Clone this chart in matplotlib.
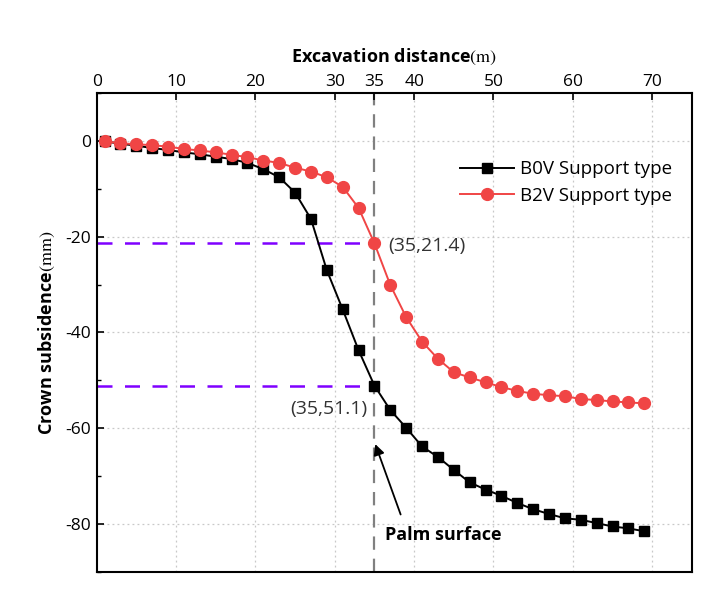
import matplotlib
matplotlib.use("Agg")
import matplotlib.pyplot as plt
from matplotlib.ticker import MultipleLocator, FixedLocator

plt.rcParams['font.family'] = ['Open Sans', 'DejaVu Sans']
plt.rcParams['mathtext.fontset'] = 'stix'

# ---- data ----
distance = list(range(1, 70, 2))
b0v = [-0.1, -0.6, -1.0, -1.5, -1.9, -2.4, -2.8, -3.3, -3.8, -4.6,
       -5.9, -7.6, -10.8, -16.3, -27.0, -35.2, -43.7, -51.1, -56.2, -59.9,
       -63.8, -66.0, -68.7, -71.3, -72.8, -74.1, -75.6, -76.9, -77.9, -78.8,
       -79.1, -79.8, -80.5, -80.9, -81.5]
b2v = [-0.1, -0.5, -0.7, -0.9, -1.2, -1.7, -2.0, -2.4, -2.9, -3.4,
       -4.1, -4.6, -5.6, -6.4, -7.6, -9.6, -14.0, -21.4, -30.1, -36.8,
       -41.9, -45.5, -48.3, -49.4, -50.4, -51.4, -52.2, -52.8, -53.1, -53.3,
       -53.9, -54.1, -54.4, -54.6, -54.8]
series_labels = ['B0V Support type', 'B2V Support type']
x_ticks = [0, 10, 20, 30, 35, 40, 50, 60, 70]
y_ticks = [-80, -60, -40, -20, 0]
palm_x = 35
mark_b0v = -51.1
mark_b2v = -21.4

fig = plt.figure(figsize=(7.23, 6.01), dpi=100)
ax = fig.add_axes([0.1337, 0.0483, 0.8233, 0.797])

ax.set_xlim(0, 75)
ax.set_ylim(-90, 10)

# grid
for xv in [10, 20, 30, 40, 50, 60, 70]:
    ax.axvline(xv, color='#c8c8c8', lw=0.9, ls=(0, (1.5, 2.5)), zorder=0)
for yv in y_ticks:
    ax.axhline(yv, color='#c8c8c8', lw=0.9, ls=(0, (1.5, 2.5)), zorder=0)

# reference lines
ax.axvline(palm_x, color='#808080', lw=1.6, ls=(0, (6, 4)), zorder=1)
ax.plot([0, palm_x], [mark_b2v, mark_b2v], color='#7f00ff', lw=1.8, ls=(0, (6, 5)), zorder=1)
ax.plot([0, palm_x], [mark_b0v, mark_b0v], color='#7f00ff', lw=1.8, ls=(0, (6, 5)), zorder=1)

l1, = ax.plot(distance, b0v, color='black', lw=1.4, marker='s', ms=7,
              mfc='black', mec='black', label=series_labels[0], zorder=3)
l2, = ax.plot(distance, b2v, color='#f04545', lw=1.4, marker='o', ms=8.5,
              mfc='#f04545', mec='#f04545', label=series_labels[1], zorder=3)

# axes styling
ax.xaxis.tick_top()
ax.xaxis.set_label_position('top')
ax.xaxis.set_major_locator(FixedLocator(x_ticks))
ax.yaxis.set_major_locator(FixedLocator(y_ticks))
ax.yaxis.set_minor_locator(MultipleLocator(10))
ax.tick_params(axis='x', which='both', direction='in', length=5, width=1.2,
               labelsize=12.5, pad=2, top=True, bottom=False)
ax.tick_params(axis='y', which='major', direction='in', length=5, width=1.2,
               labelsize=12.5, pad=4, left=True, right=False)
ax.tick_params(axis='y', which='minor', direction='in', length=3, width=1.0,
               left=True, right=False)
ax.set_yticklabels([str(v) for v in y_ticks])
for s in ax.spines.values():
    s.set_linewidth(1.5)

ax.set_xlabel(r'Excavation distance$\mathrm{(m)}$', fontsize=13, fontweight='bold', labelpad=9)
ax.set_ylabel(r'Crown subsidence$\mathrm{(mm)}$', fontsize=13, fontweight='bold', labelpad=6)

leg = ax.legend(handles=[l1, l2], loc='upper right', bbox_to_anchor=(0.995, 0.895),
                frameon=False, fontsize=13.5, handlelength=2.9, handletextpad=0.3,
                labelspacing=0.45, numpoints=1)

ax.text(36.7, -21.9, '(35,21.4)', fontsize=14, color='#333333', va='center', ha='left')
ax.text(34.1, -56.0, '(35,51.1)', fontsize=14, color='#333333', va='center', ha='right')
ax.annotate('', xy=(35.1, -63.3), xytext=(38.3, -78.0),
            arrowprops=dict(arrowstyle='-|>', color='black', lw=1.3,
                            mutation_scale=16, shrinkA=0, shrinkB=0))
ax.text(36.3, -82.2, 'Palm surface', fontsize=13, fontweight='bold', va='center', ha='left')

fig.savefig('out.png', dpi=100)
